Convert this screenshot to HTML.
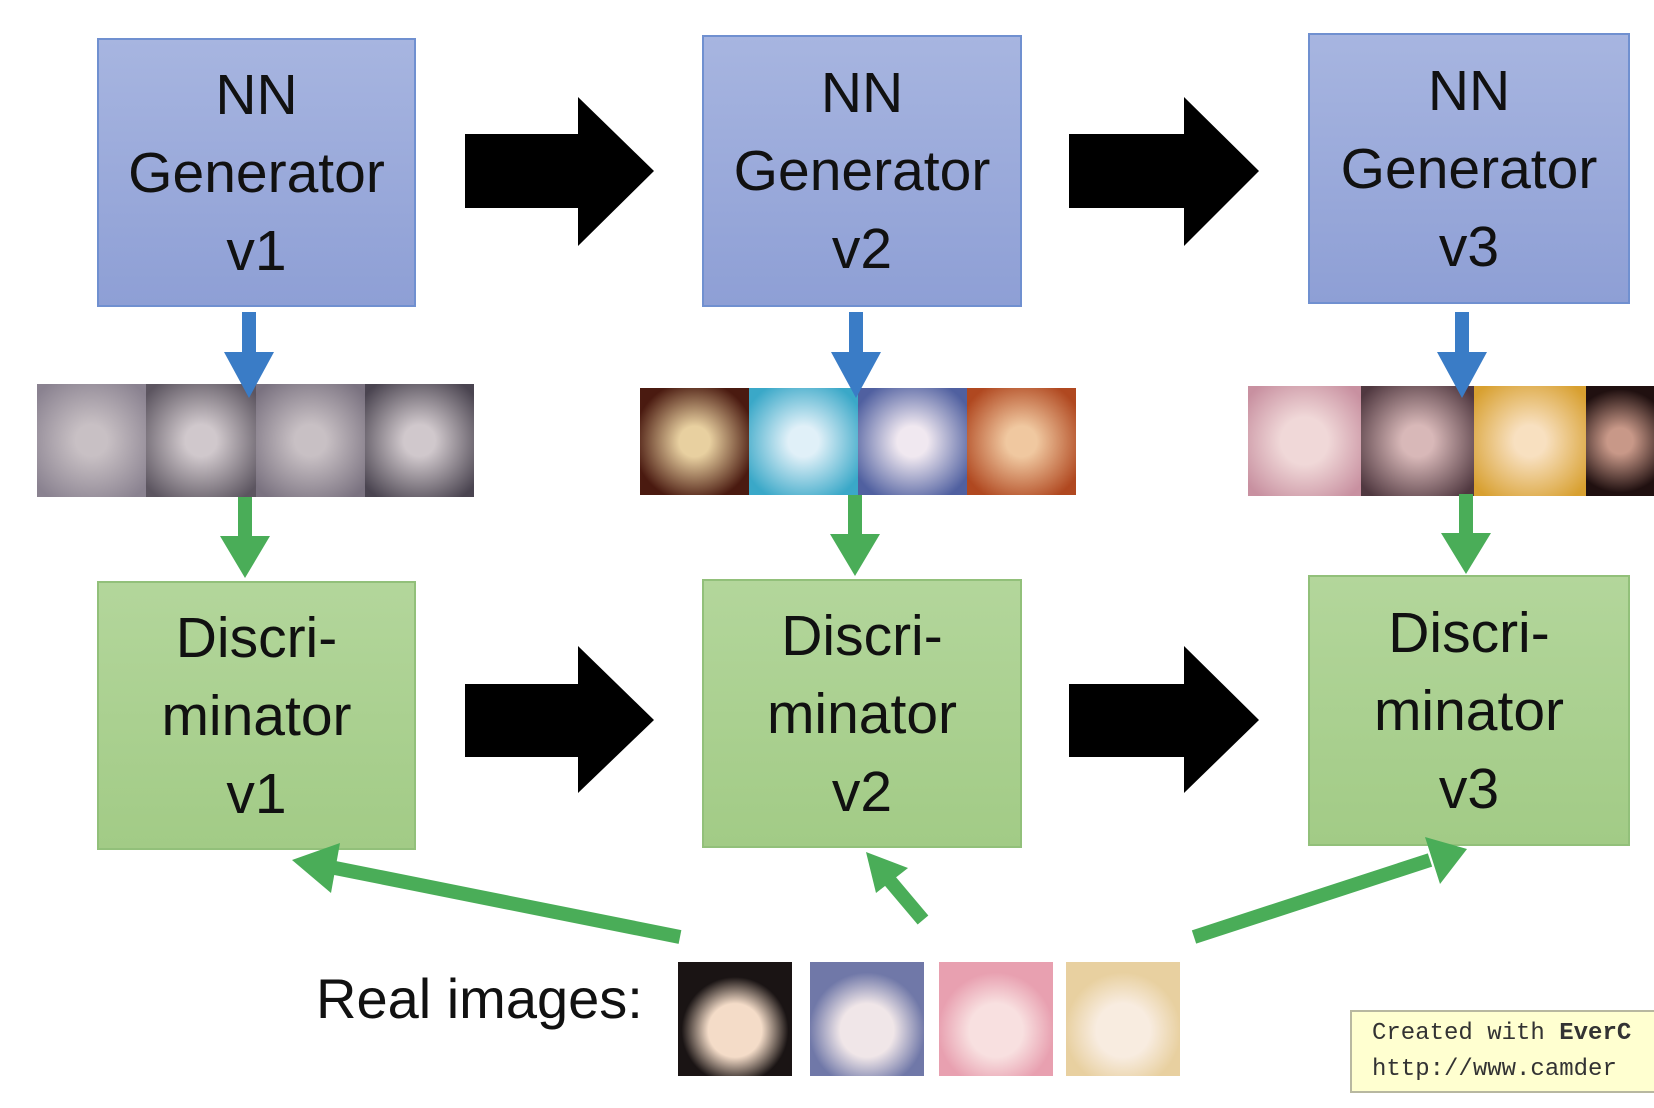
<!DOCTYPE html>
<html><head><meta charset="utf-8"><style>
body{margin:0;width:1654px;height:1108px;background:#fff;position:relative;overflow:hidden;font-family:"Liberation Sans",sans-serif}
.b{position:absolute;box-sizing:border-box;display:flex;flex-direction:column;justify-content:center;align-items:center;font-size:57px;line-height:78px;color:#111;text-align:center}
.g{background:linear-gradient(#a7b5e0,#8e9fd5);border:2px solid #7090d0}
.d{background:linear-gradient(#b3d69b,#a2cb86);border:2px solid #92c07a}
.s{position:absolute;display:flex}
.s div{flex:1}
.r{position:absolute;width:114px;height:114px}
</style></head><body>
<div class="b g" style="left:97px;top:38px;width:319px;height:269px">NN<br>Generator<br>v1</div>
<div class="b g" style="left:702px;top:35px;width:320px;height:272px">NN<br>Generator<br>v2</div>
<div class="b g" style="left:1308px;top:33px;width:322px;height:271px">NN<br>Generator<br>v3</div>
<div class="b d" style="left:97px;top:581px;width:319px;height:269px">Discri-<br>minator<br>v1</div>
<div class="b d" style="left:702px;top:579px;width:320px;height:269px">Discri-<br>minator<br>v2</div>
<div class="b d" style="left:1308px;top:575px;width:322px;height:271px">Discri-<br>minator<br>v3</div>

<div class="s" style="left:37px;top:384px;width:437px;height:113px">
<div style="background:radial-gradient(circle,#c8c0c4 20%,#8a8290 90%)"></div>
<div style="background:radial-gradient(circle,#d0c8cc 20%,#5c5560 90%)"></div>
<div style="background:radial-gradient(circle,#c8c0c4 20%,#7a7280 90%)"></div>
<div style="background:radial-gradient(circle,#d0c8cc 20%,#4a4450 90%)"></div></div>
<div class="s" style="left:640px;top:388px;width:436px;height:107px">
<div style="background:radial-gradient(circle,#e8d0a0 20%,#4a1a10 80%)"></div>
<div style="background:radial-gradient(circle,#e0f0f8 20%,#3aa8c8 85%)"></div>
<div style="background:radial-gradient(circle,#f0e8f0 20%,#5060a0 85%)"></div>
<div style="background:radial-gradient(circle,#f0c8a0 20%,#b04820 85%)"></div></div>
<div class="s" style="left:1248px;top:386px;width:406px;height:110px">
<div style="background:radial-gradient(circle,#f0d8d8 30%,#c890a0 90%)"></div>
<div style="background:radial-gradient(circle,#d8b8b8 20%,#503840 90%)"></div>
<div style="background:radial-gradient(circle,#f8e0c0 20%,#d8a030 90%)"></div>
<div style="background:radial-gradient(circle,#c89888 20%,#201010 80%);flex:0.6"></div></div>

<div class="r" style="left:678px;top:962px;background:radial-gradient(circle at 50% 60%,#f4dcc8 30%,#1a1414 60%)"></div>
<div class="r" style="left:810px;top:962px;background:radial-gradient(circle at 50% 60%,#f0e6e8 30%,#7078a8 65%)"></div>
<div class="r" style="left:939px;top:962px;background:radial-gradient(circle at 50% 60%,#f8e0e0 30%,#e8a0b0 65%)"></div>
<div class="r" style="left:1066px;top:962px;background:radial-gradient(circle at 50% 60%,#f8ece0 30%,#e8d0a0 65%)"></div>

<div style="position:absolute;left:316px;top:966px;font-size:56px;color:#111">Real images:</div>

<svg style="position:absolute;left:0;top:0" width="1654" height="1108">
<g fill="#000">
<polygon points="465,134 578,134 578,97 654,171 578,246 578,208 465,208"/>
<polygon points="1069,134 1184,134 1184,97 1259,171 1184,246 1184,208 1069,208"/>
<polygon points="465,684 578,684 578,646 654,720 578,793 578,757 465,757"/>
<polygon points="1069,684 1184,684 1184,646 1259,720 1184,793 1184,757 1069,757"/>
</g>
<g fill="#3a7cc6">
<polygon points="242,312 256,312 256,352 274,352 249,398 224,352 242,352"/>
<polygon points="849,312 863,312 863,352 881,352 856,398 831,352 849,352"/>
<polygon points="1455,312 1469,312 1469,352 1487,352 1462,398 1437,352 1455,352"/>
</g>
<g fill="#4aad58">
<polygon points="238,497 252,497 252,536 270,536 245,578 220,536 238,536"/>
<polygon points="848,495 862,495 862,534 880,534 855,576 830,534 848,534"/>
<polygon points="1459,494 1473,494 1473,533 1491,533 1466,574 1441,533 1459,533"/>
</g>
<g stroke="#4aad58" stroke-width="14" fill="none">
<line x1="680" y1="937" x2="330" y2="867"/>
<line x1="923" y1="920" x2="885" y2="875"/>
<line x1="1194" y1="937" x2="1430" y2="860"/>
</g>
<g fill="#4aad58">
<polygon points="292,860 340,843 331,893"/>
<polygon points="866,852 908,868 876,893"/>
<polygon points="1467,849 1440,884 1425,837"/>
</g>
</svg>

<div style="position:absolute;left:1350px;top:1010px;width:320px;height:83px;background:#ffffd0;border:2px solid #b8b8a0;box-sizing:border-box;font-family:'Liberation Mono',monospace;font-size:24px;line-height:36px;color:#333;padding:4px 0 0 20px;white-space:nowrap">Created with <b>EverC</b><br>http://www.camder</div>
</body></html>
